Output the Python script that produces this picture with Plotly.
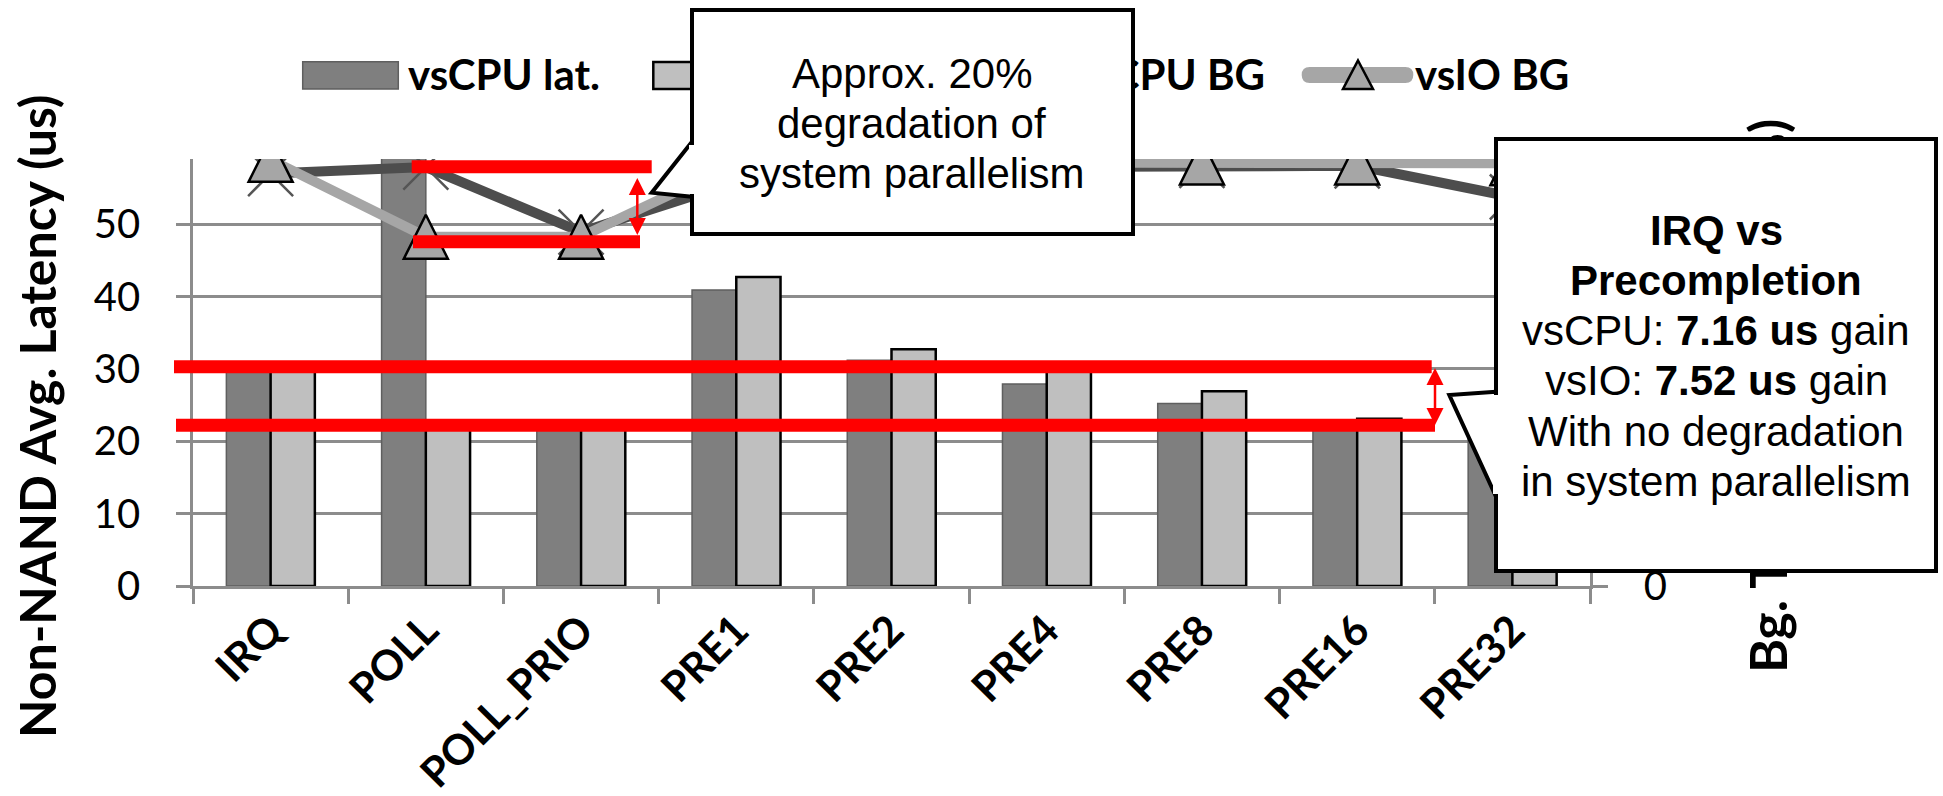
import plotly.graph_objects as go

# ---------------- data ----------------
categories = ["IRQ", "POLL", "POLL_PRIO", "PRE1", "PRE2", "PRE4", "PRE8", "PRE16", "PRE32"]
vscpu_lat = [29.7, 62.0, 22.4, 40.9, 31.2, 27.9, 25.2, 22.5, 22.8]
vsio_lat = [30.6, 22.6, 22.5, 42.7, 32.7, 30.5, 26.9, 23.1, 23.4]
vscpu_bg = [96.6, 98.1, 82.9, 94.6, 98.0, 98.2, 98.5, 98.4, 91.1]
vsio_bg = [99.8, 81.8, 81.8, 99.0, 99.2, 99.2, 99.2, 99.2, 99.0]

series_names = ["vsCPU lat.", "vsIO lat.", "vsCPU BG", "vsIO BG"]
y_ticks = [0, 10, 20, 30, 40, 50]
y2_ticks = [0, 20, 40, 60, 80, 100]

# reference levels marked by the red lines
lat_hi, lat_lo = 30.3, 22.2      # latency axis (us)
bg_hi, bg_lo = 98.2, 80.6        # background axis (%)

y_title = "Non-NAND Avg. Latency (us)"
y2_title = "Bg. Task Throughput (%)"
note1 = ["Approx. 20%", "degradation of", "system parallelism"]
note2 = ["<b>IRQ vs</b>", "<b>Precompletion</b>", "vsCPU: <b>7.16 us</b> gain",
         "vsIO: <b>7.52 us</b> gain", "With no degradation", "in system parallelism"]

# ---------------- geometry / style ----------------
W, H = 1943, 796
PL, PR, PT, PB = 193, 1590, 159, 586


def fx(px):
    return (px - PL) / (PR - PL)


def fy(py):
    return (PB - py) / (PB - PT)


DARK_BAR = "#7f7f7f"
LIGHT_BAR = "#bfbfbf"
DARK_LINE = "#4d4d4d"
LIGHT_LINE = "#a6a6a6"
GRID = "#8c8c8c"
CHART_FONT = "Lato"
NOTE_FONT = "Liberation Sans, Arial, sans-serif"

fig = go.Figure()
fig.add_bar(x=categories, y=vscpu_lat, name=series_names[0],
            marker=dict(color=DARK_BAR, line=dict(color="#5f5f5f", width=1.5)))
fig.add_bar(x=categories, y=vsio_lat, name=series_names[1],
            marker=dict(color=LIGHT_BAR, line=dict(color="black", width=2.5)))
fig.add_scatter(x=categories, y=vscpu_bg, name=series_names[2], yaxis="y2",
                mode="lines+markers", line=dict(color=DARK_LINE, width=10),
                marker=dict(symbol="x-thin", size=45, line=dict(color="#555555", width=2.5)))
fig.add_scatter(x=categories, y=vsio_bg, name=series_names[3], yaxis="y2",
                mode="lines+markers", line=dict(color=LIGHT_LINE, width=10),
                marker=dict(symbol="arrow-down", angle=180, standoff=22, size=44,
                            color=LIGHT_LINE, line=dict(color="black", width=2.5)))


def rect_px(x0, y0, x1, y1, **kw):
    return dict(type="rect", xref="paper", yref="paper",
                x0=fx(x0), x1=fx(x1), y0=fy(y1), y1=fy(y0), **kw)


def path_px(points, **kw):
    d = "M" + " L".join(f"{fx(x):.6f},{fy(y):.6f}" for x, y in points) + " Z"
    return dict(type="path", xref="paper", yref="paper", path=d, **kw)


def line_px(x0, y0, x1, y1, **kw):
    return dict(type="line", xref="paper", yref="paper",
                x0=fx(x0), x1=fx(x1), y0=fy(y0), y1=fy(y1), **kw)


shapes = []
# manual legend swatches
shapes.append(rect_px(302.7, 61.7, 398.3, 89, fillcolor=DARK_BAR, line=dict(color="#5f5f5f", width=1.5)))
shapes.append(rect_px(653.3, 62, 749, 89, fillcolor=LIGHT_BAR, line=dict(color="black", width=2.5)))
shapes.append(line_px(950, 75, 1062, 75, line=dict(color=DARK_LINE, width=15)))
lx0, lx1, ly0, ly1, rr = 1301.7, 1413.3, 67, 83, 8
d = (f"M{fx(lx0+rr):.6f},{fy(ly0):.6f} L{fx(lx1-rr):.6f},{fy(ly0):.6f} "
     f"Q{fx(lx1):.6f},{fy(ly0):.6f} {fx(lx1):.6f},{fy(75):.6f} "
     f"Q{fx(lx1):.6f},{fy(ly1):.6f} {fx(lx1-rr):.6f},{fy(ly1):.6f} "
     f"L{fx(lx0+rr):.6f},{fy(ly1):.6f} "
     f"Q{fx(lx0):.6f},{fy(ly1):.6f} {fx(lx0):.6f},{fy(75):.6f} "
     f"Q{fx(lx0):.6f},{fy(ly0):.6f} {fx(lx0+rr):.6f},{fy(ly0):.6f} Z")
shapes.append(dict(type="path", xref="paper", yref="paper", path=d,
                   fillcolor=LIGHT_LINE, line=dict(width=0)))
shapes.append(path_px([(1358, 60.5), (1373, 89), (1343, 89)], fillcolor=LIGHT_LINE,
                      line=dict(color="black", width=2.5)))

# red reference lines
RED = "#ff0000"
shapes.append(dict(type="line", xref="paper", yref="y2", x0=fx(411.7), x1=fx(651.7),
                   y0=bg_hi, y1=bg_hi, line=dict(color=RED, width=13)))
shapes.append(dict(type="line", xref="paper", yref="y2", x0=fx(413), x1=fx(640),
                   y0=bg_lo, y1=bg_lo, line=dict(color=RED, width=13)))
shapes.append(dict(type="line", xref="paper", yref="y", x0=fx(174), x1=fx(1431.7),
                   y0=lat_hi, y1=lat_hi, line=dict(color=RED, width=13)))
shapes.append(dict(type="line", xref="paper", yref="y", x0=fx(176), x1=fx(1435),
                   y0=lat_lo, y1=lat_lo, line=dict(color=RED, width=13)))


def double_arrow(x, ytop, ybot, hw=8.5, hl=17):
    out = [line_px(x, ytop + hl - 2, x, ybot - hl + 2, line=dict(color=RED, width=2.5)),
           path_px([(x, ytop), (x + hw, ytop + hl), (x - hw, ytop + hl)], fillcolor=RED, line=dict(width=0)),
           path_px([(x, ybot), (x + hw, ybot - hl), (x - hw, ybot - hl)], fillcolor=RED, line=dict(width=0))]
    return out


shapes += double_arrow(637.3, 178, 235)
shapes += double_arrow(1435, 368, 425)

# callout tails
shapes.append(path_px([(692, 141.7), (651.7, 192.7), (692, 196.7)], fillcolor="white",
                      line=dict(color="black", width=4)))
shapes.append(path_px([(1496, 391.7), (1449.3, 395), (1496, 496.7)], fillcolor="white",
                      line=dict(color="black", width=4)))

annotations = []
# axis titles
annotations.append(dict(text=y_title, textangle=-90, x=fx(37), y=fy(416), xref="paper", yref="paper",
                        xanchor="center", yanchor="middle", showarrow=False,
                        font=dict(family=CHART_FONT, size=50, weight="bold", color="black")))
annotations.append(dict(text=y2_title, textangle=-90, x=fx(1767), y=fy(396), xref="paper", yref="paper",
                        xanchor="center", yanchor="middle", showarrow=False,
                        font=dict(family=CHART_FONT, size=52, weight="bold", color="black")))
# legend labels
leg_font = dict(family=CHART_FONT, size=42, weight="bold", color="black")
for txt, xp, anc in [(series_names[0], 408, "left"), (series_names[1], 759, "left"),
                     (series_names[2], 1265, "right"), (series_names[3], 1415, "left")]:
    annotations.append(dict(text=txt, x=fx(xp), y=fy(74.3), xref="paper", yref="paper",
                            xanchor=anc, yanchor="middle", showarrow=False, font=leg_font,
                            borderpad=0, borderwidth=0))


def callout(x0, y0, w, h, patch, lines, cx, cy0, step):
    res = [dict(text="\u00a0", x=fx(x0), y=fy(y0), xref="paper", yref="paper",
                xanchor="left", yanchor="top", showarrow=False, width=w - 8, height=h - 8,
                bgcolor="white", bordercolor="black", borderwidth=4, borderpad=0,
                font=dict(size=4))]
    px0, py0, pw, ph = patch
    res.append(dict(text="\u00a0", x=fx(px0), y=fy(py0), xref="paper", yref="paper",
                    xanchor="left", yanchor="top", showarrow=False, width=pw, height=ph,
                    bgcolor="white", borderwidth=0, borderpad=0, font=dict(size=2)))
    for i, t in enumerate(lines):
        res.append(dict(text=t, x=fx(cx), y=fy(cy0 + i * step), xref="paper", yref="paper",
                        xanchor="center", yanchor="middle", showarrow=False,
                        borderpad=0, borderwidth=0,
                        font=dict(family=NOTE_FONT, size=42, color="black")))
    return res


annotations += callout(689.5, 8.5, 445, 228, (689, 144.7, 7, 49), note1, 912, 73.3, 50)
annotations += callout(1494, 136.5, 444, 436, (1493, 394.7, 7, 99), note2, 1716, 230, 50.3)

axis_common = dict(showline=True, linecolor=GRID, linewidth=2.5, ticks="outside",
                   tickwidth=2.5, tickcolor=GRID, zeroline=False, automargin=False)

fig.update_layout(
    width=W, height=H, template="none",
    margin=dict(l=PL, r=W - PR, t=PT, b=H - PB, pad=0, autoexpand=False),
    paper_bgcolor="white", plot_bgcolor="white",
    showlegend=False,
    barmode="group", bargap=0.43, bargroupgap=0,
    font=dict(family=CHART_FONT, color="black"),
    xaxis=dict(type="category", tickson="boundaries", ticklen=15, tickangle=-45,
               tickfont=dict(family=CHART_FONT, size=42, weight="bold", color="black"),
               showgrid=False, range=[-0.5, 8.5], **axis_common),
    yaxis=dict(range=[0, 59], tickvals=y_ticks, ticklen=14, showgrid=True, gridcolor=GRID,
               gridwidth=2.5, tickfont=dict(family=CHART_FONT, size=40, color="black"),
               ticklabelstandoff=28, **axis_common),
    yaxis2=dict(overlaying="y", side="right", range=[0, 100], tickvals=y2_ticks, ticklen=15,
                showgrid=False, tickfont=dict(family=CHART_FONT, size=40, color="black"),
                ticklabelstandoff=28, **axis_common),
    shapes=shapes,
    annotations=annotations,
)

fig.write_html("out.html", config={"displayModeBar": False},
               post_script="document.body.style.margin='0px';document.body.style.overflow='hidden';")
